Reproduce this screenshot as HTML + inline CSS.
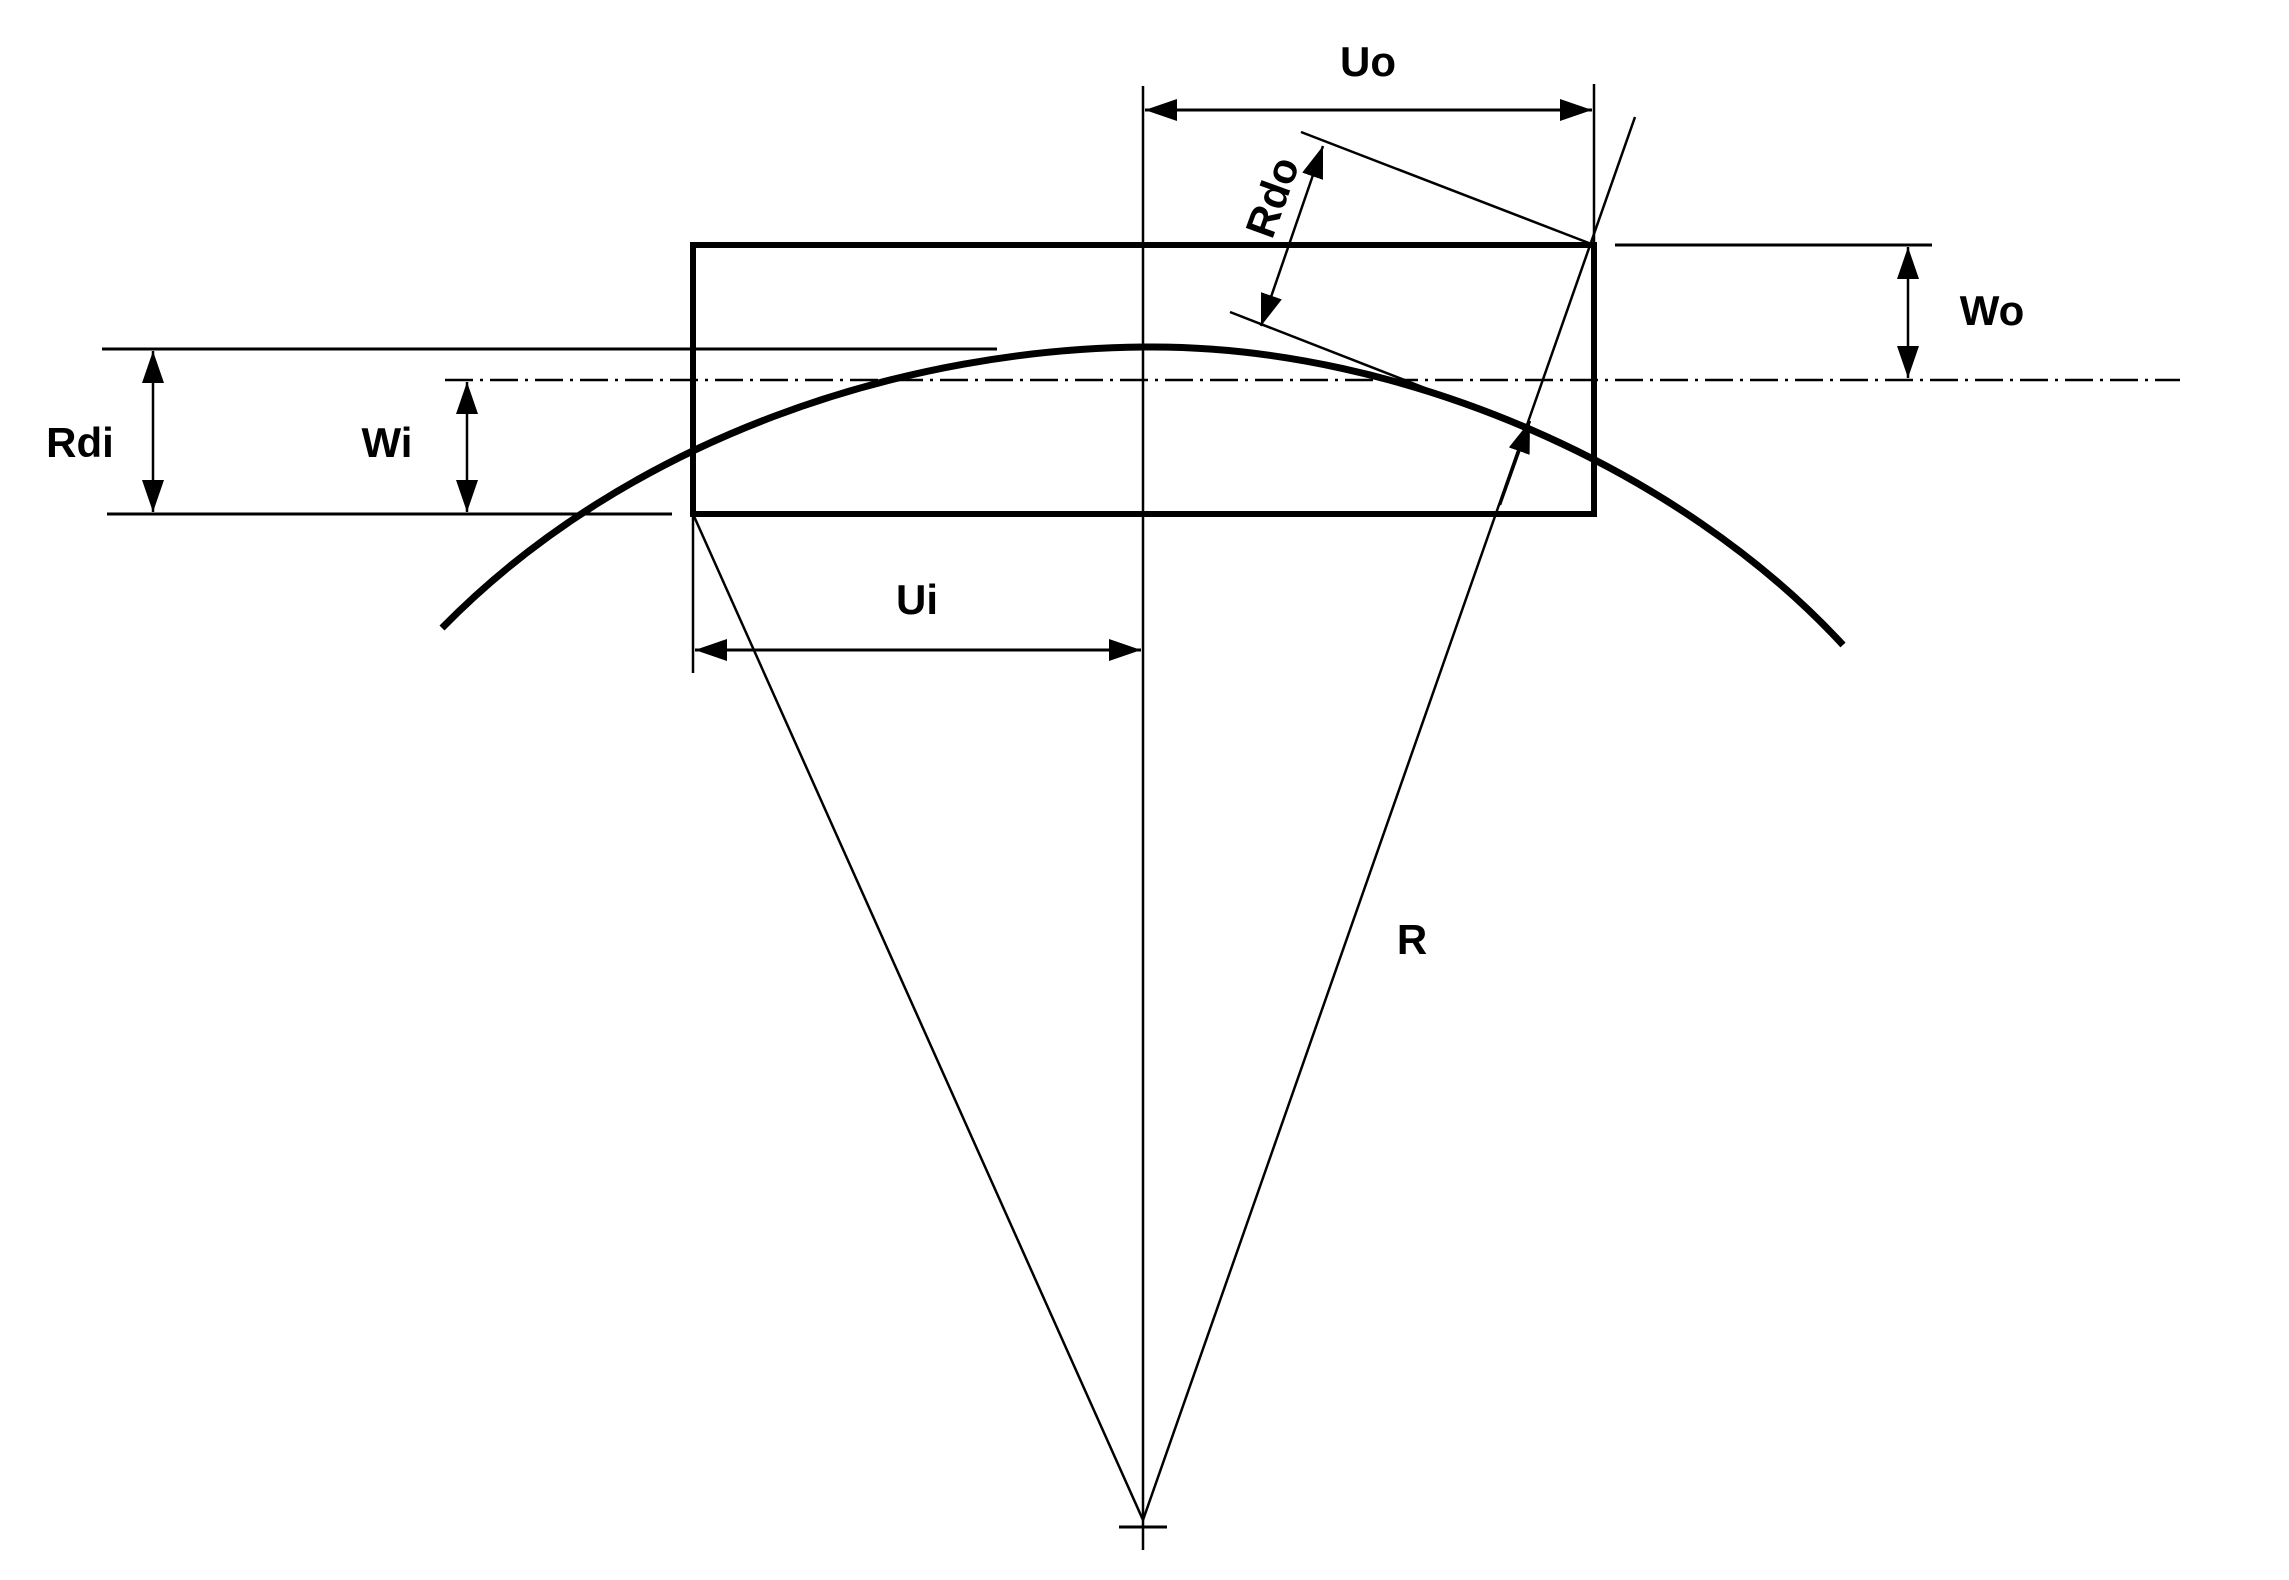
<!DOCTYPE html>
<html><head><style>html,body{margin:0;padding:0;background:#fff}svg{display:block}</style></head>
<body>
<svg width="2289" height="1580" viewBox="0 0 2289 1580" xmlns="http://www.w3.org/2000/svg">
<defs>
<marker id="a" viewBox="0 0 32 22" refX="32" refY="11" markerWidth="32" markerHeight="22" markerUnits="userSpaceOnUse" orient="auto-start-reverse">
<path d="M0,0 L32,11 L0,22 Z" fill="#000"/>
</marker>
</defs>
<g stroke="#000" fill="none" stroke-linecap="butt">
<line x1="1143" y1="86" x2="1143" y2="1550" stroke-width="2.5"/>
<line x1="1119" y1="1527" x2="1167" y2="1527" stroke-width="3"/>
<rect x="693" y="245" width="901" height="269" stroke-width="6"/>
<path d="M442,628 C628,438 905,347 1153,347 C1402,347 1679,467 1843,645" stroke-width="7"/>
<line x1="102" y1="349" x2="997" y2="349" stroke-width="3"/>
<line x1="107" y1="514" x2="672" y2="514" stroke-width="3"/>
<line x1="1615" y1="245" x2="1932" y2="245" stroke-width="3"/>
<line x1="1594" y1="84" x2="1594" y2="245" stroke-width="2.5"/>
<line x1="693" y1="514" x2="693" y2="673" stroke-width="2.5"/>
<line x1="445" y1="380" x2="2180" y2="380" stroke-width="2.5" stroke-dasharray="28,7,3,7"/>
<line x1="153" y1="351" x2="153" y2="512" stroke-width="2.5" marker-start="url(#a)" marker-end="url(#a)"/>
<line x1="467" y1="382" x2="467" y2="512" stroke-width="2.5" marker-start="url(#a)" marker-end="url(#a)"/>
<line x1="1908" y1="247" x2="1908" y2="378" stroke-width="2.5" marker-start="url(#a)" marker-end="url(#a)"/>
<line x1="1145" y1="110" x2="1592" y2="110" stroke-width="3" marker-start="url(#a)" marker-end="url(#a)"/>
<line x1="695" y1="650" x2="1141" y2="650" stroke-width="3" marker-start="url(#a)" marker-end="url(#a)"/>
<line x1="693" y1="514" x2="1143" y2="1520" stroke-width="2.5"/>
<line x1="1143" y1="1520" x2="1635" y2="117" stroke-width="2.5"/>
<line x1="1500" y1="505" x2="1530" y2="421" stroke-width="2.5" marker-end="url(#a)"/>
<line x1="1301" y1="132" x2="1594" y2="245" stroke-width="2.5"/>
<line x1="1230" y1="312" x2="1425" y2="388" stroke-width="2.5"/>
<line x1="1323" y1="146" x2="1261" y2="326" stroke-width="2.5" marker-start="url(#a)" marker-end="url(#a)"/>
</g>
<g font-family="Liberation Sans, Arial, sans-serif" font-weight="bold" font-size="42" fill="#000" text-anchor="middle">
<text x="1368" y="76">Uo</text>
<text x="1992" y="325">Wo</text>
<text x="80" y="457">Rdi</text>
<text x="387" y="457">Wi</text>
<text x="917" y="614">Ui</text>
<text x="1412" y="954">R</text>
<text x="0" y="0" transform="translate(1286,202) rotate(-70)">Rdo</text>
</g>
</svg>
</body></html>
